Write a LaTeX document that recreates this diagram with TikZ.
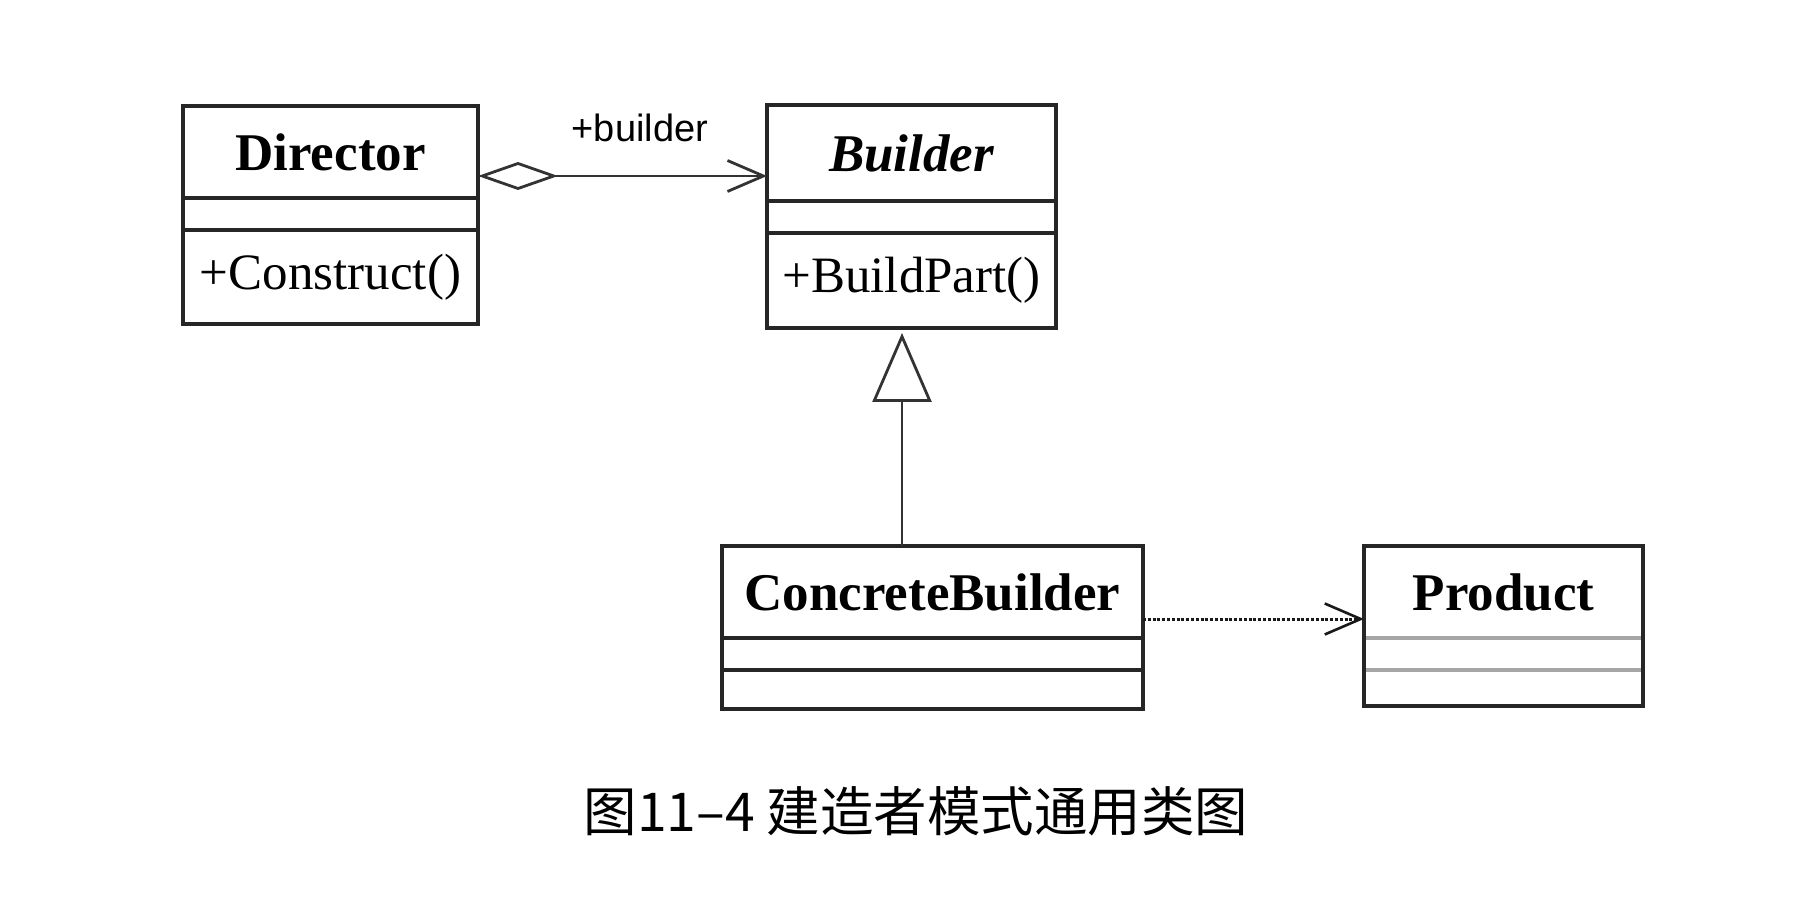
\documentclass[tikz,border=0pt]{standalone}
\usepackage{fontspec}
\setmainfont{Liberation Serif}
\newfontfamily\labelfont{Liberation Sans}
\newfontfamily\cjk{Noto Sans CJK SC}
\usetikzlibrary{positioning,arrows.meta}
\begin{document}
\begin{tikzpicture}[x=1pt,y=1pt,
    box/.style={draw=black!85, line width=3.3pt, inner sep=0pt, outer sep=0pt},
    classname/.style={box, minimum height=92pt, font=\fontsize{53}{60}\selectfont\bfseries},
    classattr/.style={box, minimum height=32pt},
    classops/.style={box, font=\fontsize{51}{58}\selectfont},
    divider/.style={draw=black!35, line width=4pt},
    link/.style={draw=black!80, line width=2.8pt}]
    \useasboundingbox (0,0) rectangle (1810,898);
    \node[classname, minimum width=295pt] (director) at (330.5,746) {Director};
    \node[classattr, minimum width=295pt, below=0pt of director] (director-attr) {};
    \node[classops, minimum width=295pt, minimum height=94pt, below=0pt of director-attr] (director-ops) {+Construct()};
    \node[classname, minimum width=289pt, minimum height=96pt] (builder) at (911.5,745) {\itshape Builder};
    \node[classattr, minimum width=289pt, below=0pt of builder] (builder-attr) {};
    \node[classops, minimum width=289pt, minimum height=95pt, below=0pt of builder-attr] (builder-ops) {+BuildPart()};
    \node[classname, minimum width=421pt] (concrete) at (932.5,306) {ConcreteBuilder};
    \node[classattr, minimum width=421pt, below=0pt of concrete] (concrete-attr) {};
    \node[classops, minimum width=421pt, minimum height=39pt, below=0pt of concrete-attr] (concrete-ops) {};
    \node[classname, draw=none, minimum width=279pt] (product) at (1503.5,306) {Product};
    \node[classattr, draw=none, minimum width=279pt, below=0pt of product] (product-attr) {};
    \node[classops, draw=none, minimum width=279pt, minimum height=36pt, below=0pt of product-attr] (product-ops) {};
    \draw[divider] (product.south west) -- (product.south east)
      (product-attr.south west) -- (product-attr.south east);
    \draw[box] (product.north west) rectangle (product-ops.south east);
    \coordinate (aggr-start) at ([yshift=22pt]director.south east);
    \draw[link, {Diamond[open,length=80pt,width=28pt]}-{Straight Barb[length=36pt,width=31pt]}]
      (aggr-start) -- (aggr-start -| builder.west)
      node[pos=0.56, above=33pt, inner sep=0pt, font=\labelfont\fontsize{38}{44}\selectfont] (role) {+builder};
    \coordinate (gen-tip) at ([xshift=-9.5pt,yshift=-5pt]builder-ops.south);
    \draw[link, -{Triangle[open,length=69pt,width=59pt]}] (gen-tip |- concrete.north) -- (gen-tip);
    \coordinate (dep-start) at ([yshift=19pt]concrete.south east);
    \draw[link, draw=black!90, line width=3pt, dash pattern=on 3pt off 1.8pt, -{Straight Barb[length=36pt,width=31pt,line width=2.6pt]}]
      (dep-start) -- (dep-start -| product.west);
    \node[font=\cjk\fontsize{53.5}{60}\selectfont] (caption) at (916,87) {图11–4 建造者模式通用类图};
\end{tikzpicture}
\end{document}
